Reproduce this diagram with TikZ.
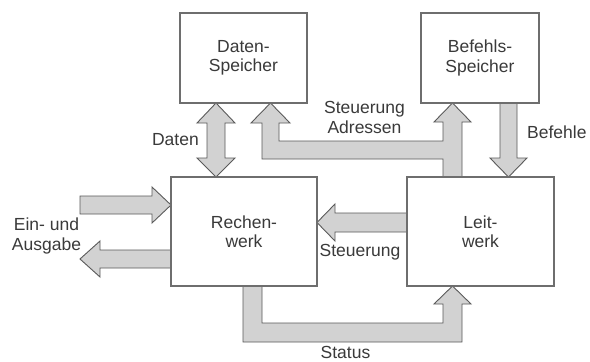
\documentclass[tikz,border=0pt]{standalone}
\usepackage{fontspec}
\setmainfont{Liberation Sans}
\definecolor{txt}{HTML}{3A3A3A}
\definecolor{boxline}{HTML}{6E6E6E}
\definecolor{arrfill}{HTML}{D2D2D2}
\definecolor{arrline}{HTML}{5A5A5A}
\begin{document}
\begin{tikzpicture}[x=1pt,y=-1pt,
  unit/.style={draw=boxline,line width=1.1pt,fill=white,text=txt,align=center,
    inner sep=0pt,font=\fontsize{17.5}{19.5}\selectfont},
  fatarrow/.style={fill=arrfill,draw=arrline,line width=0.9pt,line join=miter},
  lbl/.style={text=txt,inner sep=0pt,align=center,font=\fontsize{17.5}{19.5}\selectfont}]
\useasboundingbox[fill=white] (0,0) rectangle (590,362);
% arrows
\draw[fatarrow] (216,103) -- (235,123) -- (225,123) -- (225,158) -- (235,158) -- (216,177)
  -- (197,158) -- (207,158) -- (207,123) -- (197,123) -- cycle;
\draw[fatarrow] (443,177) -- (443,159) -- (262,159) -- (262,123) -- (251,123) -- (270.5,103)
  -- (290,123) -- (279,123) -- (279,141) -- (443,141) -- (443,122) -- (434,122)
  -- (452.5,103) -- (471,122) -- (462,122) -- (462,177) -- cycle;
\draw[fatarrow] (500,103) -- (517,103) -- (517,158) -- (527,158) -- (508.5,177) -- (490,158)
  -- (500,158) -- cycle;
\draw[fatarrow] (80,196) -- (152,196) -- (152,187) -- (171,205) -- (152,223) -- (152,214)
  -- (80,214) -- cycle;
\draw[fatarrow] (171,250) -- (100,250) -- (100,241) -- (80,259) -- (100,277) -- (100,268)
  -- (171,268) -- cycle;
\draw[fatarrow] (407,213) -- (335,213) -- (335,204) -- (317,222.5) -- (335,241) -- (335,232)
  -- (407,232) -- cycle;
\draw[fatarrow] (243,286) -- (243,342) -- (462,342) -- (462,304) -- (471,304) -- (452.5,286)
  -- (434,304) -- (443,304) -- (443,323) -- (262,323) -- (262,286) -- cycle;
% boxes
\node[unit,minimum width=127pt,minimum height=90pt] (ds) at (243.5,58) {Daten-\\Speicher};
\node[unit,minimum width=118pt,minimum height=90pt] (bs) at (480,58) {Befehls-\\Speicher};
\node[unit,minimum width=146pt,minimum height=109pt] (rw) at (244,231.5) {Rechen-\\werk};
\node[unit,minimum width=147pt,minimum height=109pt] (lw) at (480.5,231.5) {Leit-\\werk};
% labels
\node[lbl,anchor=east] (ldaten) at (199,140) {Daten};
\node[lbl] (lsa) at (364.5,117.5) {Steuerung\\Adressen};
\node[lbl,anchor=west] (lbef) at (527,132) {Befehle};
\node[lbl] (lea) at (46.5,236) {Ein- und\\Ausgabe};
\node[lbl] (lst) at (360,252) {Steuerung};
\node[lbl] (lstat) at (345.5,352.5) {Status};
\end{tikzpicture}
\end{document}
